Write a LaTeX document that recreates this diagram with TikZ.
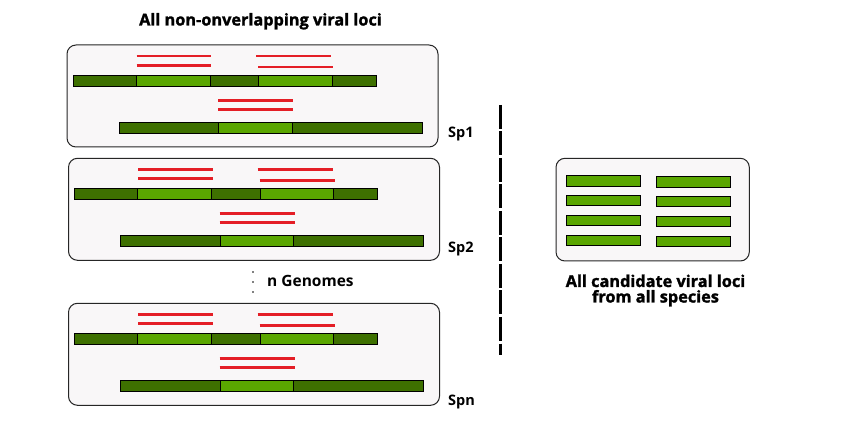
\documentclass[tikz,border=0pt]{standalone}
\usepackage{fontspec}
\setmainfont{Open Sans}
\newfontfamily\heavyfont{Open Sans Bold}[FakeBold=1.5]
\definecolor{dkg}{HTML}{3E7000}
\definecolor{ltg}{HTML}{5AA600}
\definecolor{rd}{HTML}{E41E26}
\definecolor{bx}{HTML}{F9F7F8}
\tikzset{
  gbox/.style={draw=black!85, line width=1pt, rounded corners=9pt, fill=bx},
  dk/.style={draw=black, line width=0.9pt, fill=dkg},
  lt/.style={draw=black, line width=0.9pt, fill=ltg},
  rl/.style={draw=rd, line width=2.6pt},
  ttl/.style={font=\fontsize{16.3}{18}\selectfont\heavyfont, inner sep=0pt, anchor=base},
  splbl/.style={font=\fontsize{14.5}{16}\selectfont\bfseries, inner sep=0pt, anchor=base west},
}
\newcommand{\genomeblock}[2]{%
  \begin{scope}[shift={(#1,#2)}]
    \draw[gbox] (67,45) rectangle (438,147);
    \draw[rl] (136.5,56) -- (211,56);
    \draw[rl] (136.5,65.3) -- (211,65.3);
    \draw[rl] (256,56) -- (331,56);
    \draw[rl] (258,67) -- (333,67);
    \draw[dk] (73.3,75) rectangle (136.3,86.5);
    \draw[lt] (136.3,75) rectangle (210.3,86.5);
    \draw[dk] (210.3,75) rectangle (258.7,86.5);
    \draw[lt] (258.7,75) rectangle (332.3,86.5);
    \draw[dk] (332.3,75) rectangle (376.3,86.5);
    \draw[rl] (218,100.3) -- (293,100.3);
    \draw[rl] (218,109.3) -- (293,109.3);
    \draw[dk] (119.3,122.3) rectangle (218.7,133.3);
    \draw[lt] (218.7,122.3) rectangle (292.3,133.3);
    \draw[dk] (292.3,122.3) rectangle (422.3,133.3);
  \end{scope}}
\begin{document}
\begin{tikzpicture}[x=1pt,y=-1pt]
  \useasboundingbox[fill=white] (0,0) rectangle (848,427);
  \node[ttl] (title) at (260.5,25.5) {All non-onverlapping viral loci};
  \genomeblock{0}{0}
  \genomeblock{1.5}{113.3}
  \genomeblock{1.5}{258.3}
  \node[splbl] (sp1) at (448,137.7) {Sp1};
  \node[splbl] (sp2) at (448,253) {Sp2};
  \node[splbl] (spn) at (448,405.5) {Spn};
  \foreach \yy in {272,282,292} \fill (253,\yy) circle (0.8);
  \node[splbl, font=\fontsize{15.5}{18}\selectfont\bfseries] (ngen) at (267,287) {n Genomes};
  \coordinate (dtop) at (500,105);
  \coordinate (dbot) at (500,355);
  \draw[line width=3pt, dash pattern=on 24pt off 2.5pt] (dtop) -- (dbot);
  \draw[gbox] (556,158.3) rectangle (749.3,261);
  \foreach \yy in {175.7,195,215,235} \draw[lt] (566,\yy) rectangle (640.7,\yy+10.5);
  \foreach \yy in {176.7,196,216,236} \draw[lt] (656,\yy) rectangle (730.7,\yy+10.5);
  \node[ttl] (cand) at (655.5,287) {All candidate viral loci};
  \node[ttl] (cand2) at (655.5,302.5) {from all species};
\end{tikzpicture}
\end{document}
